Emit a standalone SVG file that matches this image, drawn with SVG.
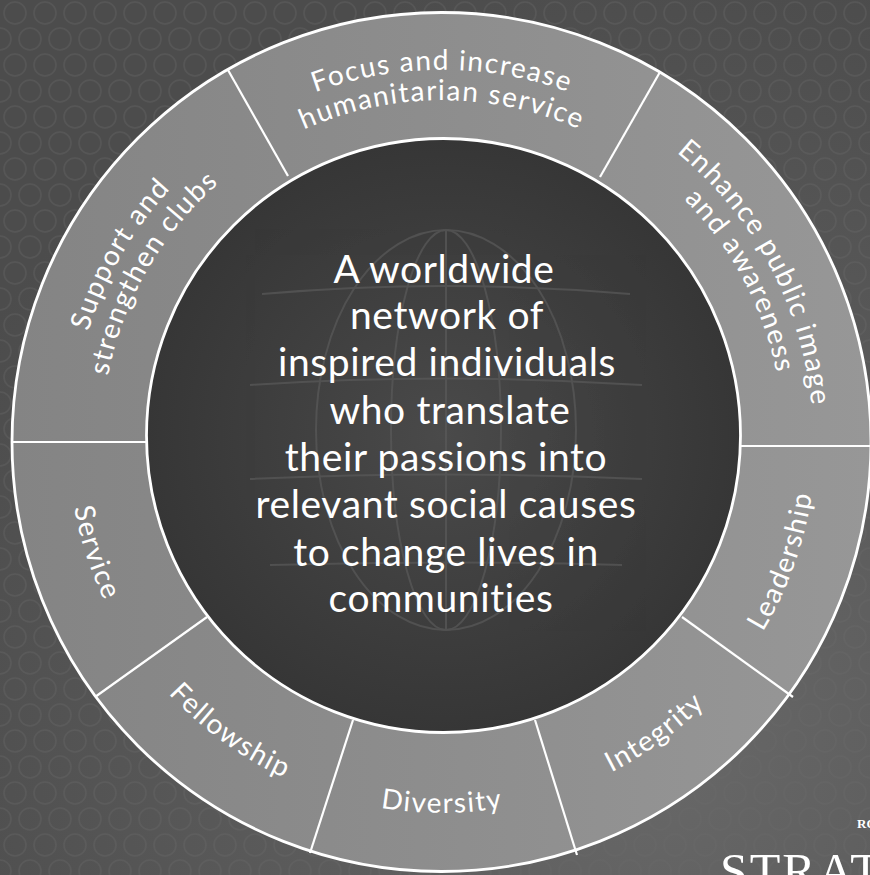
<svg xmlns="http://www.w3.org/2000/svg" width="870" height="875" viewBox="0 0 870 875">
  <defs>
    <style>
      .ring-label { font-family: Lato, "Noto Sans", sans-serif; font-size: 28px; fill: #ffffff; letter-spacing: 1.5px; }
      .core-text { font-family: Lato, "Noto Sans", sans-serif; font-size: 39px; fill: #ffffff; letter-spacing: 0.6px; text-anchor: middle; }
      .divider { stroke: #ffffff; stroke-width: 2.2; fill: none; }
      .edge { stroke: #ffffff; stroke-width: 2.8; }
      .globe { stroke: #5a5a5a; stroke-width: 2; fill: none; }
    </style>
    <pattern id="hex" width="30" height="52" patternUnits="userSpaceOnUse">
      <circle cx="15" cy="13" r="11" fill="none" stroke="#6a6a6a" stroke-width="1.6"/>
      <circle cx="0" cy="39" r="11" fill="none" stroke="#6a6a6a" stroke-width="1.6"/>
      <circle cx="30" cy="39" r="11" fill="none" stroke="#6a6a6a" stroke-width="1.6"/>
    </pattern>
    <radialGradient id="bgShade" cx="0.75" cy="0.85" r="0.9">
      <stop offset="0" stop-color="#686868"/>
      <stop offset="1" stop-color="#4c4c4c"/>
    </radialGradient>
    <linearGradient id="ringShade" x1="0" y1="0" x2="1" y2="0">
      <stop offset="0" stop-color="#848484"/>
      <stop offset="1" stop-color="#979797"/>
    </linearGradient>
    <radialGradient id="coreShade" cx="0.5" cy="0.5" r="0.5">
      <stop offset="0" stop-color="#4a4a4a"/>
      <stop offset="1" stop-color="#363636"/>
    </radialGradient>
    <clipPath id="coreClip">
      <circle cx="443.5" cy="435.5" r="296"/>
    </clipPath>
    <path id="p-focus1" d="M77.6,375.7 A370,370 0 0 1 806.4,375.7"/>
    <path id="p-focus2" d="M107.2,381.0 A340,340 0 0 1 776.8,381.0"/>
    <path id="p-support1" d="M204.2,723.4 A370,370 0 0 1 568.5,92.3"/>
    <path id="p-support2" d="M223.5,700.5 A340,340 0 0 1 558.3,120.5"/>
    <path id="p-enhance1" d="M327.4,87.1 A371,371 0 0 1 670.4,732.3"/>
    <path id="p-enhance2" d="M336.6,115.6 A341,341 0 0 1 651.9,708.7"/>
    <path id="p-service" d="M260.6,113.6 A373,373 0 0 0 487.5,810.2"/>
    <path id="p-fellowship" d="M106.7,276.5 A373,373 0 0 0 701.1,708.3"/>
    <path id="p-diversity" d="M74.7,504.8 A373,373 0 0 0 809.3,504.8"/>
    <path id="p-integrity" d="M182.9,708.3 A373,373 0 0 0 777.3,276.5"/>
    <path id="p-leadership" d="M380.4,807.9 A373,373 0 0 0 626.8,115.7"/>
  </defs>

  <g id="background">
    <rect width="870" height="875" fill="url(#bgShade)"/>
    <rect width="870" height="875" fill="url(#hex)" opacity="0.35"/>
  </g>

  <g id="ring">
    <circle cx="441.5" cy="442" r="429.5" fill="url(#ringShade)" class="edge"/>
  </g>

  <g id="core">
    <circle cx="443.5" cy="435.5" r="297" fill="url(#coreShade)" class="edge"/>
    <g clip-path="url(#coreClip)" opacity="0.7">
      <path class="globe" d="M262,294 Q446,278 630,294"/>
      <path class="globe" d="M250,385 Q446,372 642,385"/>
      <path class="globe" d="M250,479 Q446,470 642,479"/>
      <path class="globe" d="M270,565 Q446,560 622,565"/>
      <ellipse class="globe" cx="446" cy="430" rx="55" ry="200"/>
      <ellipse class="globe" cx="446" cy="430" rx="130" ry="200"/>
      <line class="globe" x1="446" y1="230" x2="446" y2="630"/>
    </g>
    <text class="core-text" x="444" y="283">A worldwide</text>
    <text class="core-text" x="447" y="329">network of</text>
    <text class="core-text" x="447" y="376">inspired individuals</text>
    <text class="core-text" x="450" y="424">who translate</text>
    <text class="core-text" x="446" y="471">their passions into</text>
    <text class="core-text" x="446" y="518">relevant social causes</text>
    <text class="core-text" x="446" y="566">to change lives in</text>
    <text class="core-text" x="441" y="612">communities</text>
  </g>

  <g id="connectors">
    <line class="divider" x1="288" y1="176" x2="228" y2="70"/>
    <line class="divider" x1="600" y1="177" x2="660" y2="72"/>
    <line class="divider" x1="740" y1="446" x2="871" y2="446"/>
    <line class="divider" x1="682" y1="617" x2="793" y2="697"/>
    <line class="divider" x1="535" y1="720" x2="577" y2="855"/>
    <line class="divider" x1="353" y1="720" x2="310" y2="853"/>
    <line class="divider" x1="207" y1="617" x2="95" y2="697"/>
    <line class="divider" x1="12" y1="442" x2="147" y2="442"/>
  </g>

  <g id="focus">
    <text class="ring-label"><textPath href="#p-focus1" startOffset="50%" text-anchor="middle">Focus and increase</textPath></text>
    <text class="ring-label"><textPath href="#p-focus2" startOffset="50%" text-anchor="middle">humanitarian service</textPath></text>
  </g>
  <g id="support">
    <text class="ring-label"><textPath href="#p-support1" startOffset="50%" text-anchor="middle">Support and</textPath></text>
    <text class="ring-label"><textPath href="#p-support2" startOffset="50%" text-anchor="middle">strengthen clubs</textPath></text>
  </g>
  <g id="enhance">
    <text class="ring-label"><textPath href="#p-enhance1" startOffset="50%" text-anchor="middle">Enhance public image</textPath></text>
    <text class="ring-label"><textPath href="#p-enhance2" startOffset="50%" text-anchor="middle">and awareness</textPath></text>
  </g>
  <g id="service">
    <text class="ring-label"><textPath href="#p-service" startOffset="50%" text-anchor="middle">Service</textPath></text>
  </g>
  <g id="fellowship">
    <text class="ring-label"><textPath href="#p-fellowship" startOffset="50%" text-anchor="middle">Fellowship</textPath></text>
  </g>
  <g id="diversity">
    <text class="ring-label"><textPath href="#p-diversity" startOffset="50%" text-anchor="middle">Diversity</textPath></text>
  </g>
  <g id="integrity">
    <text class="ring-label"><textPath href="#p-integrity" startOffset="50%" text-anchor="middle">Integrity</textPath></text>
  </g>
  <g id="leadership">
    <text class="ring-label"><textPath href="#p-leadership" startOffset="50%" text-anchor="middle">Leadership</textPath></text>
  </g>

  <g id="corner-title">
    <text x="857" y="828" font-family="'Liberation Serif', serif" font-size="13" font-weight="bold" fill="#ffffff">RO</text>
    <text x="720" y="888" font-family="'Liberation Serif', serif" font-size="50" letter-spacing="2" fill="#ffffff">STRAT</text>
  </g>
</svg>
